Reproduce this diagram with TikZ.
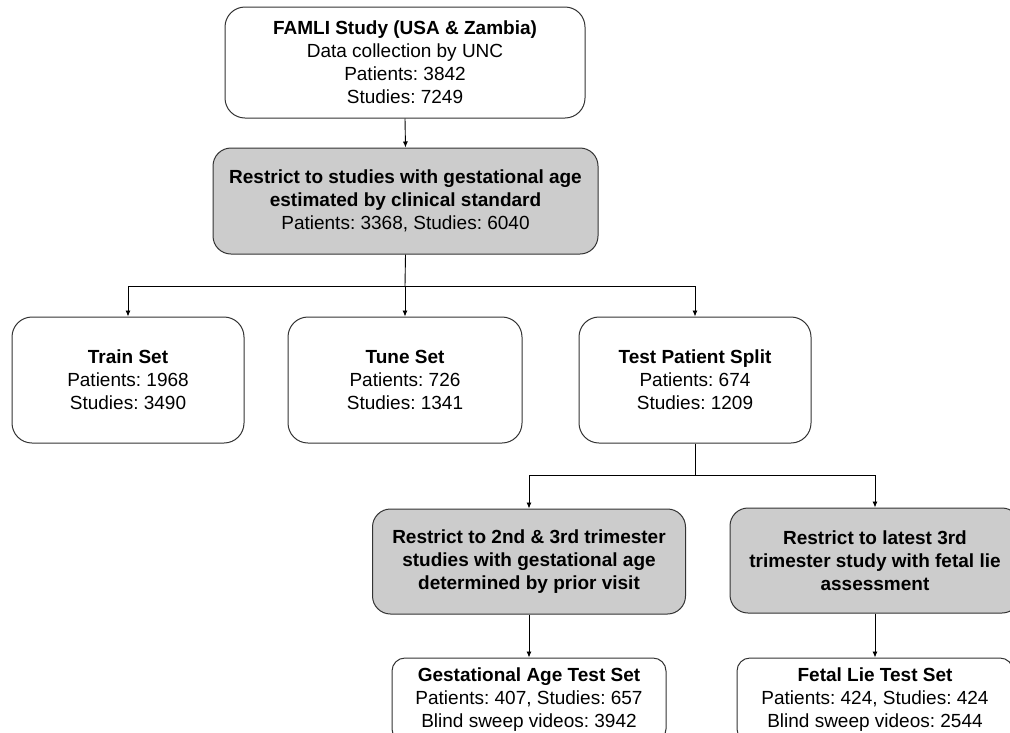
\documentclass[tikz,border=0pt]{standalone}
\usepackage{fontspec}
\setmainfont{Liberation Sans}
\usetikzlibrary{arrows.meta}
\definecolor{boxgray}{HTML}{CCCCCC}
\definecolor{edgecol}{HTML}{333333}
\frenchspacing
\tikzset{
  box/.style={draw=edgecol, line width=1pt, rounded corners=20pt, fill=white,
    align=center, inner sep=0pt, font=\fontsize{19}{23}\selectfont\frenchspacing},
  graybox/.style={box, fill=boxgray, rounded corners=18pt},
  smallbox/.style={box, rounded corners=13pt},
  arr/.style={draw=black, line width=0.9pt, -{Latex[length=6pt,width=5pt]}},
  ln/.style={draw=black, line width=0.9pt}
}
\begin{document}
\begin{tikzpicture}[x=1pt,y=-1pt]
\useasboundingbox (0,0) rectangle (1010,732);
\clip (0,0) rectangle (1010,732);
\fill[white] (0,0) rectangle (1010,732);

\node[box, minimum width=360pt, minimum height=111pt] (top) at (405,62.5)
  {\textbf{FAMLI Study (USA \& Zambia)}\\Data collection by UNC\\Patients: 3842\\Studies: 7249};
\node[graybox, minimum width=385pt, minimum height=106pt] (g1) at (405.5,201)
  {\textbf{Restrict to studies with gestational age}\\\textbf{estimated by clinical standard}\\Patients: 3368, Studies: 6040};

\node[box, minimum width=232pt, minimum height=126pt] (train) at (128,380)
  {\textbf{Train Set}\\Patients: 1968\\Studies: 3490};
\node[box, minimum width=234pt, minimum height=126pt] (tune) at (405,380)
  {\textbf{Tune Set}\\Patients: 726\\Studies: 1341};
\node[box, minimum width=232pt, minimum height=126pt] (test) at (695,380)
  {\textbf{Test Patient Split}\\Patients: 674\\Studies: 1209};

\node[graybox, minimum width=313pt, minimum height=105pt] (g2) at (529,561.5)
  {\textbf{Restrict to 2nd \& 3rd trimester}\\\textbf{studies with gestational age}\\\textbf{determined by prior visit}};
\node[graybox, minimum width=290pt, minimum height=105pt] (g3) at (875,560.5)
  {\textbf{Restrict to latest 3rd}\\\textbf{trimester study with fetal lie}\\\textbf{assessment}};

\node[smallbox, minimum width=274pt, minimum height=84pt] (ga) at (529,700)
  {\textbf{Gestational Age Test Set}\\Patients: 407, Studies: 657\\Blind sweep videos: 3942};
\node[smallbox, minimum width=276pt, minimum height=84pt] (fl) at (875,700)
  {\textbf{Fetal Lie Test Set}\\Patients: 424, Studies: 424\\Blind sweep videos: 2544};

\coordinate (j1) at (405,286);
\coordinate (j2) at (695,475);

\draw[arr] (top.south) -- (g1.north);
\draw[ln] (g1.south) -- (j1);
\draw[arr] (j1) -| (train.north);
\draw[arr] (j1) -- (tune.north);
\draw[arr] (j1) -| (test.north);
\draw[ln] (test.south) -- (j2);
\draw[arr] (j2) -| (g2.north);
\draw[arr] (j2) -| (g3.north);
\draw[arr] (g2.south) -- (ga.north);
\draw[arr] (g3.south) -- (fl.north);
\end{tikzpicture}
\end{document}
